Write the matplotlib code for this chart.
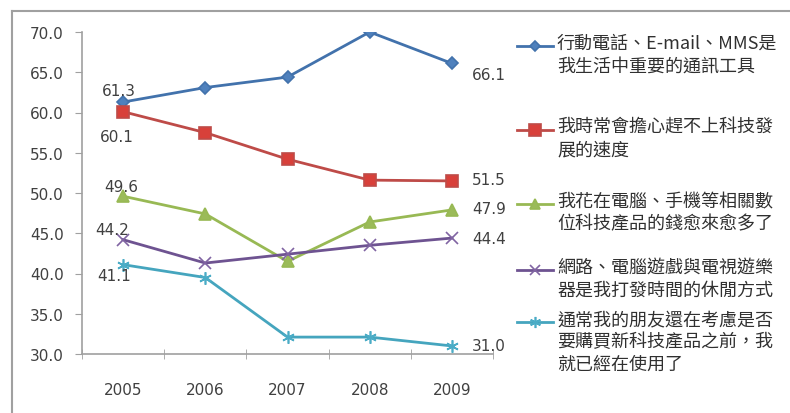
import matplotlib.pyplot as plt
from matplotlib.lines import Line2D

plt.rcParams['font.family'] = ['DejaVu Sans', 'Noto Sans CJK TC']

years = ['2005', '2006', '2007', '2008', '2009']
mobile_tools = [61.3, 63.1, 64.4, 70.0, 66.1]
worry_pace = [60.1, 57.5, 54.2, 51.6, 51.5]
spend_more = [49.6, 47.4, 41.5, 46.4, 47.9]
games_leisure = [44.2, 41.3, 42.4, 43.5, 44.4]
early_adopter = [41.1, 39.5, 32.1, 32.1, 31.0]

series_labels = [
    '行動電話、E-mail、MMS是\n我生活中重要的通訊工具',
    '我時常會擔心趕不上科技發\n展的速度',
    '我花在電腦、手機等相關數\n位科技產品的錢愈來愈多了',
    '網路、電腦遊戲與電視遊樂\n器是我打發時間的休閒方式',
    '通常我的朋友還在考慮是否\n要購買新科技產品之前，我\n就已經在使用了',
]
yticks = [30, 35, 40, 45, 50, 55, 60, 65, 70]

series = [mobile_tools, worry_pace, spend_more, games_leisure, early_adopter]
line_colors = ['#4272AC', '#BE4B48', '#98B954', '#6E5391', '#45A5BE']
face_colors = ['#4F81BD', '#D8403A', '#9BBB59', '#8064A2', '#4BACC6']
markers = ['D', 's', '^', 'x', (6, 2, 0)]
msizes = [6, 9, 8, 8, 9]
# offsets (pixels) for first / last value labels
first_off = [(-4, 12), (-6, -25), (-2, 10), (-11, 10), (-9, -11)]
last_off = [(20, -11), (20, 1), (20, 1), (20, 0), (20, 0)]

W, H = 790, 414
fig = plt.figure(figsize=(W / 100, H / 100), dpi=100)
fig.patch.set_facecolor('white')

# outer frame
fig.add_artist(Line2D([12 / W, 12 / W], [0, 1 - 12 / H], transform=fig.transFigure,
                      color='#A0A0A0', lw=1.5))
fig.add_artist(Line2D([12 / W, 1], [1 - 12 / H, 1 - 12 / H], transform=fig.transFigure,
                      color='#A0A0A0', lw=1.5))

ax = fig.add_axes([82 / W, 1 - 355 / H, (493 - 82) / W, (355 - 33) / H])
x = range(len(years))
for i, vals in enumerate(series):
    mk = markers[i]
    ax.plot(x, vals, color=line_colors[i], lw=2, marker=mk, markersize=msizes[i],
            markerfacecolor=face_colors[i], markeredgecolor=line_colors[i] if mk not in ['x', (6, 2, 0)] else face_colors[i],
            markeredgewidth=1.2, zorder=3)
    ax.annotate(f'{vals[0]:.1f}', (0, vals[0]), xytext=first_off[i], textcoords='offset pixels',
                ha='center', va='center', fontsize=11, color='#404040')
    ax.annotate(f'{vals[-1]:.1f}', (len(years) - 1, vals[-1]), xytext=last_off[i], textcoords='offset pixels',
                ha='left', va='center', fontsize=11, color='#404040')

ax.set_xlim(-0.5, len(years) - 0.5)
ax.set_ylim(30, 70)
ax.set_yticks(yticks)
ax.set_yticklabels([f'{v:.1f}' for v in yticks])
ax.set_xticks(list(x))
ax.set_xticklabels(years)
ax.set_xticks([k + 0.5 for k in range(-1, len(years))], minor=True)
ax.tick_params(axis='y', length=5, color='#A0A0A0', labelsize=11, labelcolor='#404040', pad=8)
ax.tick_params(axis='x', which='major', length=0, labelsize=11, labelcolor='#404040', pad=20)
ax.tick_params(axis='x', which='minor', length=7, direction='inout', color='#A0A0A0')
for side in ['top', 'right']:
    ax.spines[side].set_visible(False)
for side in ['left', 'bottom']:
    ax.spines[side].set_color('#A0A0A0')
    ax.spines[side].set_linewidth(1.2)

# legend drawn by hand so the wrapped labels sit like the original
legend_y = [47, 131, 205, 271, 323]
for i, lab in enumerate(series_labels):
    yy = 1 - legend_y[i] / H
    mk = markers[i]
    fig.add_artist(Line2D([517 / W, 553 / W], [yy, yy], transform=fig.transFigure,
                          color=line_colors[i], lw=2))
    fig.add_artist(Line2D([535 / W], [yy], transform=fig.transFigure, marker=mk,
                          markersize=msizes[i] - 1, markerfacecolor=face_colors[i],
                          markeredgecolor=line_colors[i] if mk not in ['x', (6, 2, 0)] else face_colors[i],
                          markeredgewidth=1.2, lw=0))
    fig.text(557 / W, yy + 12 / H, lab, ha='left', va='top', fontsize=13, color='#303030',
             family=['Noto Sans CJK TC', 'DejaVu Sans'], linespacing=1.3)

fig.savefig('out.png', dpi=100)
